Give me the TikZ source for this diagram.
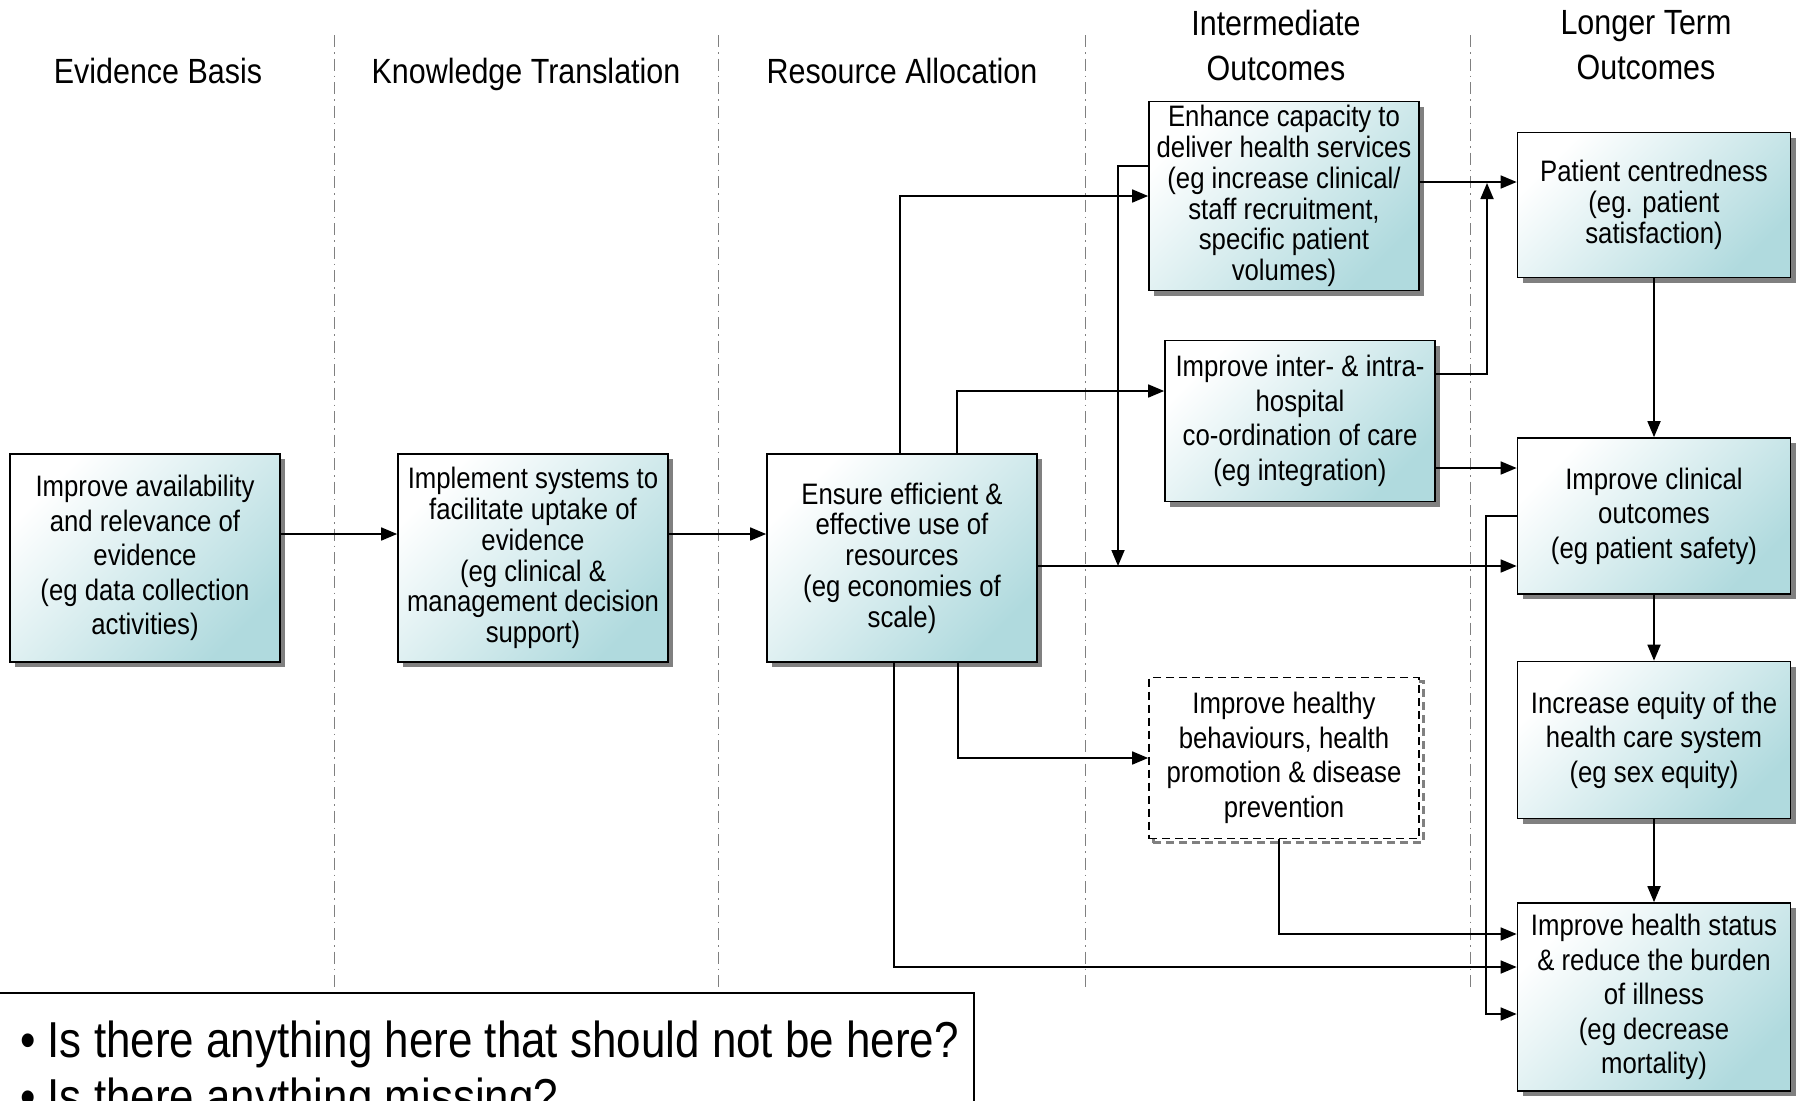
\documentclass[tikz,border=0pt]{standalone}
\usepackage{fontspec}
\setmainfont{Liberation Sans}[FakeStretch=0.87]
\usepackage{tikz}
\usetikzlibrary{arrows.meta,positioning,shadows,calc}
\definecolor{boxteal}{RGB}{176,218,222}
\definecolor{shadowgray}{RGB}{128,128,128}
\tikzset{
    box base/.style={draw, line width=1.7pt, minimum width=270pt, inner sep=2pt, align=center, font=\fontsize{29.6}{30.7}\selectfont},
    box/.style={box base, top color=white, bottom color=boxteal, shading angle=45,
        drop shadow={shadow xshift=5pt, shadow yshift=-5pt, fill=shadowgray, opacity=1}},
    dashed box/.style={box base, dash pattern=on 8pt off 5pt, fill=white,
        drop shadow={shadow xshift=4pt, shadow yshift=-4pt, fill=none, draw=shadowgray, line width=3pt, dash pattern=on 8pt off 5pt, opacity=1}},
    loose/.style={font=\fontsize{29.6}{34.5}\selectfont},
    header/.style={anchor=north, inner sep=0pt, align=center, font=\fontsize{35}{45}\selectfont},
    question/.style={anchor=base west, inner sep=0pt, font=\fontsize{50.5}{57}\selectfont},
    separator/.style={gray, line width=1pt, dash pattern=on 12pt off 5pt on 1.5pt off 5pt},
    arr/.style={-{Triangle[length=16pt,width=13pt]}, line width=1.7pt},
}

\begin{document}
\begin{tikzpicture}[x=1pt,y=-1pt]
    \clip (0,0) rectangle (1801,1100);
    % column separators
    \foreach \sx in {334,718,1085,1470}
        \draw[separator] (\sx,35) -- (\sx,990);
    % headers
    \node[header] (hdEvidence) at (158,58) {Evidence Basis};
    \node[header] (hdKnowledge) at (526,58) {Knowledge Translation};
    \node[header] (hdResource) at (902,58) {Resource Allocation};
    \node[header] (hdInter) at (1276,10) {Intermediate\\Outcomes};
    \node[header] (hdLonger) at (1646,10) {Longer Term\\Outcomes};

    % boxes
    \node[box, loose, minimum height=208pt] (evidence) at (145,558) {Improve availability\\and relevance of\\evidence\\(eg data collection\\activities)};
    \node[box, minimum height=208pt] (translation) at (533,558) {Implement systems to\\facilitate uptake of\\evidence\\(eg clinical \&\\management decision\\support)};
    \node[box, minimum height=208pt] (resources) at (902,558) {Ensure efficient \&\\effective use of\\resources\\(eg economies of\\scale)};
    \node[box, minimum height=189pt] (capacity) at (1284,196) {Enhance capacity to\\deliver health services\\(eg increase clinical/\\staff recruitment,\\specific patient\\volumes)};
    \node[box, loose, minimum height=161pt] (coordination) at (1300,421) {Improve inter- \& intra-\\hospital\\co-ordination of care\\(eg integration)};
    \node[dashed box, loose, minimum height=161pt] (healthy) at (1284,758) {Improve healthy\\behaviours, health\\promotion \& disease\\prevention};
    \node[box, minimum width=273pt, minimum height=145pt] (centred) at (1654,205) {Patient centredness\\(eg. patient\\satisfaction)};
    \node[box, loose, minimum width=273pt, minimum height=156pt] (clinical) at (1654,516) {Improve clinical\\outcomes\\(eg patient safety)};
    \node[box, loose, minimum width=273pt, minimum height=157pt] (equity) at (1654,740) {Increase equity of the\\health care system\\(eg sex equity)};
    \node[box, loose, minimum width=273pt, minimum height=188pt] (status) at (1654,997) {Improve health status\\\& reduce the burden\\of illness\\(eg decrease\\mortality)};

    % arrows
    \draw[arr] ([yshift=24pt]evidence.east) -- ([yshift=24pt]translation.west);
    \draw[arr] ([yshift=24pt]translation.east) -- ([yshift=24pt]resources.west);
    \draw[arr] ([xshift=-2pt]resources.north) |- (capacity.west);
    \draw[arr] ([xshift=55pt]resources.north) |- ([yshift=30pt]coordination.west);
    \draw[arr] ([yshift=-8pt]resources.east) -- ([yshift=-8pt]resources.east -| clinical.west);
    \coordinate (capjoin) at (1118,566);
    \draw[arr] ([yshift=30pt]capacity.west) -| (capjoin);
    \draw[arr] ([xshift=56pt]resources.south) |- (healthy.west);
    \draw[arr] ([xshift=-8pt]resources.south) |- ([yshift=30pt]status.west);
    \draw[arr] ([xshift=-5pt]healthy.south) |- ([yshift=63pt]status.west);
    \draw[arr] ([yshift=14pt]capacity.east) -- ([yshift=14pt]capacity.east -| centred.west);
    \coordinate (centjoin) at (1487,183);
    \draw[arr] ([yshift=47pt]coordination.east) -| (centjoin);
    \draw[arr] ([yshift=-47pt]coordination.east) -- ([yshift=-47pt]coordination.east -| clinical.west);
    \draw[arr] (clinical.west) -- ++(-31,0) |- ([yshift=-17pt]status.west);
    \draw[arr] (centred) -- (clinical);
    \draw[arr] (clinical) -- (equity);
    \draw[arr] (equity) -- (status);

    % questions
    \draw[line width=1.2pt] (-5,993) rectangle (974,1200);
    \node[question] (qFirst) at (20,1057) {\textbullet\ Is there anything here that should not be here?};
    \node[question] (qSecond) at (20,1114) {\textbullet\ Is there anything missing?};
\end{tikzpicture}
\end{document}
